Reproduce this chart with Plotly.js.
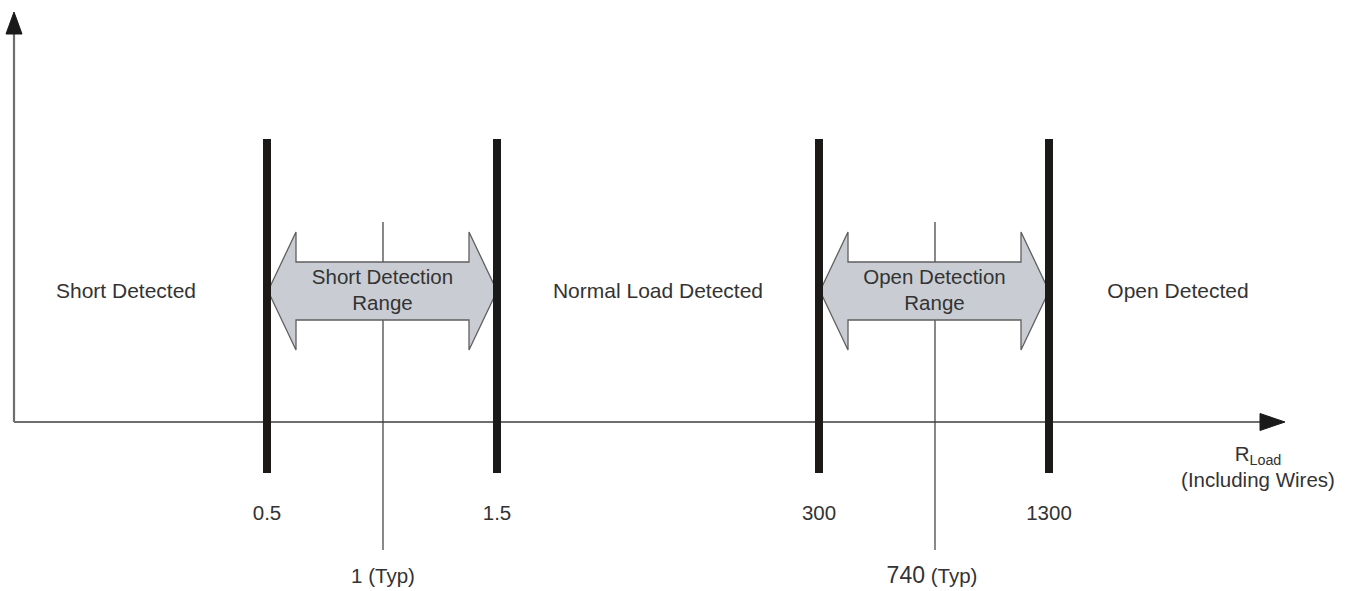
<!DOCTYPE html>
<html>
<head>
<meta charset="utf-8">
<script src="https://cdn.plot.ly/plotly-3.0.1.min.js"></script>
<style>html,body{margin:0;padding:0;background:#fff;}#chart{width:1352px;height:591px;}</style>
</head>
<body>
<div id="chart"></div>
<script>
// ---------- data ----------
const thresholdValues = [0.5, 1.5, 300, 1300];
const thresholdLabels = ["0.5", "1.5", "300", "1300"];
const typicalValues = [1, 740];
const typicalLabels = ["1 (Typ)", "<span style=\"font-size:23px\">740</span> (Typ)"];
const regionLabels = ["Short Detected", "Normal Load Detected", "Open Detected"];
const rangeLabels = ["Short Detection<br>Range", "Open Detection<br>Range"];
const axisLabel = "R<sub>Load</sub><br>(Including Wires)";

// ---------- schematic layout (positions, not data) ----------
const W = 1352, H = 591;
const pos = {
  thresholdX: [267, 497, 819, 1049],
  typicalX: [383, 935],
  regionX: [126, 658, 1178],
  origin: [14, 422],
  yTop: 12, xRight: 1285,
  barTop: 139, barBottom: 473,
  thinTop: 222, thinBottom: 550,
  midY: 291,
  thresholdLabelY: 515, typicalLabelY: 578,
  headLen: 28, headHalf: 59, shaftHalf: 29
};
const textColor = "#333333";
const font = {family: "Liberation Sans, Arial, sans-serif", size: 20.5, color: textColor};

const traces = [];
const skip = {hoverinfo: "skip", showlegend: false};

// axes lines
traces.push(Object.assign({
  x: [pos.origin[0], pos.origin[0], null, pos.origin[0], pos.xRight - 24],
  y: [34, pos.origin[1], null, pos.origin[1], pos.origin[1]],
  mode: "lines", line: {color: "#6e6e6e", width: 2.2}
}, skip));
// axis arrowheads
traces.push(Object.assign({
  x: [pos.origin[0], pos.origin[0] - 8, pos.origin[0] + 8, pos.origin[0]],
  y: [pos.yTop, 34, 34, pos.yTop],
  mode: "lines", fill: "toself", fillcolor: "#1a1a1a", line: {color: "#1a1a1a", width: 1}
}, skip));
traces.push(Object.assign({
  x: [pos.xRight, pos.xRight - 25, pos.xRight - 25, pos.xRight],
  y: [pos.origin[1], pos.origin[1] - 8.5, pos.origin[1] + 8.5, pos.origin[1]],
  mode: "lines", fill: "toself", fillcolor: "#1a1a1a", line: {color: "#1a1a1a", width: 1}
}, skip));

// thin typical lines
typicalValues.forEach((v, i) => {
  const x = pos.typicalX[i];
  traces.push(Object.assign({
    x: [x, x], y: [pos.thinTop, pos.thinBottom], mode: "lines",
    line: {color: "#3a3a3a", width: 1.2}
  }, skip));
});

// double arrows
[[0, 1], [2, 3]].forEach((pair, k) => {
  const L = pos.thresholdX[pair[0]] + 1, R = pos.thresholdX[pair[1]];
  const c = pos.midY, hl = pos.headLen, hh = pos.headHalf, sh = pos.shaftHalf;
  traces.push(Object.assign({
    x: [L, L + hl, L + hl, R - hl, R - hl, R, R - hl, R - hl, L + hl, L + hl, L],
    y: [c, c - hh, c - sh, c - sh, c - hh, c, c + hh, c + sh, c + sh, c + hh, c],
    mode: "lines", fill: "toself", fillcolor: "#c9cdd3",
    line: {color: "#5f5f5f", width: 1.3}
  }, skip));
  traces.push(Object.assign({
    x: [(L + R) / 2], y: [c + 1], mode: "text", text: [rangeLabels[k]],
    textposition: "middle center", textfont: font
  }, skip));
});

// thick threshold bars
thresholdValues.forEach((v, i) => {
  const x = pos.thresholdX[i];
  traces.push(Object.assign({
    x: [x, x], y: [pos.barTop, pos.barBottom], mode: "lines",
    line: {color: "#1c1a18", width: 8}
  }, skip));
});

// threshold labels
traces.push(Object.assign({
  x: pos.thresholdX, y: thresholdValues.map(() => pos.thresholdLabelY),
  mode: "text", text: thresholdLabels, textposition: "middle center", textfont: font
}, skip));
// typical labels
traces.push(Object.assign({
  x: [pos.typicalX[0], pos.typicalX[1] - 3], y: typicalValues.map(() => pos.typicalLabelY),
  mode: "text", text: typicalLabels, textposition: "middle center", textfont: font
}, skip));
// region labels
traces.push(Object.assign({
  x: pos.regionX, y: regionLabels.map(() => pos.midY + 2),
  mode: "text", text: regionLabels, textposition: "middle center",
  textfont: Object.assign({}, font, {size: 21})
}, skip));
// axis label
traces.push(Object.assign({
  x: [1258], y: [469], mode: "text", text: [axisLabel],
  textposition: "middle center", textfont: font
}, skip));

const layout = {
  width: W, height: H,
  margin: {l: 0, r: 0, t: 0, b: 0, pad: 0},
  paper_bgcolor: "#ffffff", plot_bgcolor: "#ffffff",
  xaxis: {range: [0, W], visible: false, fixedrange: true},
  yaxis: {range: [H, 0], visible: false, fixedrange: true},
  showlegend: false,
  font: font
};

Plotly.newPlot("chart", traces, layout, {staticPlot: true, displayModeBar: false});
</script>
</body>
</html>
